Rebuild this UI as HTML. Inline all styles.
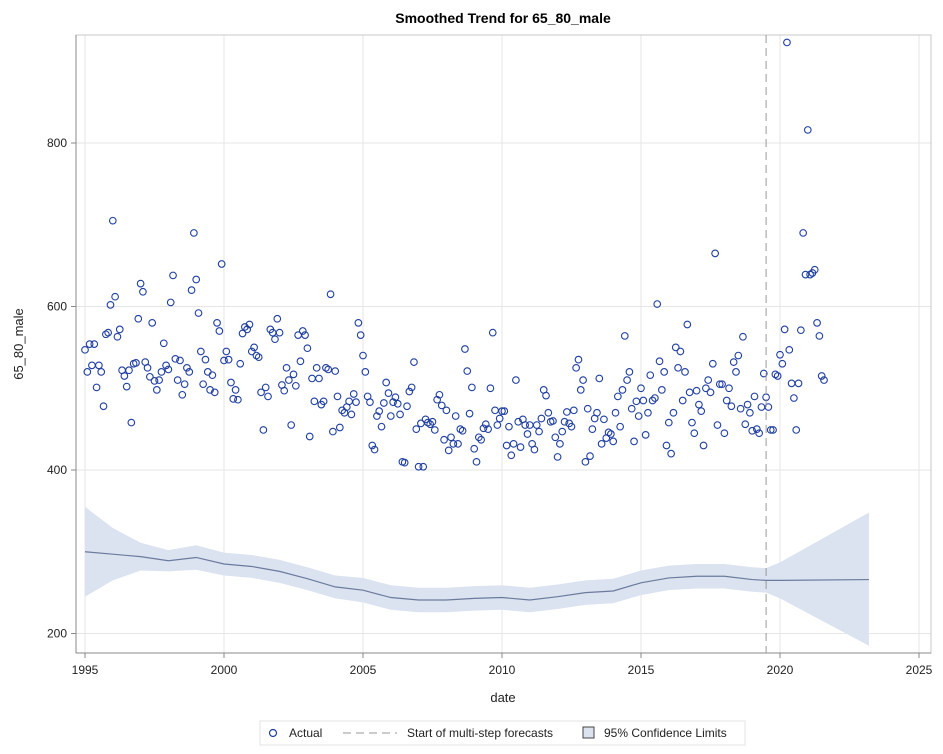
<!DOCTYPE html>
<html><head><meta charset="utf-8"><style>
body{margin:0;background:#fff;font-family:"Liberation Sans",Arial,sans-serif}
svg text{font-family:"Liberation Sans",Arial,sans-serif}
</style></head><body>
<svg id="chart" width="943" height="749" xmlns="http://www.w3.org/2000/svg">
<rect width="943" height="749" fill="#fff"/>
<text x="503" y="23" text-anchor="middle" font-size="14" font-weight="bold" fill="#000">Smoothed Trend for 65_80_male</text>
<g id="grid"></g>
<g id="band"></g>
<g id="trend"></g>
<g id="pts"></g>
<g id="axes"></g>
<text transform="translate(23,344) rotate(-90)" text-anchor="middle" font-size="13" fill="#222">65_80_male</text>
<text x="503" y="702" text-anchor="middle" font-size="13" fill="#222">date</text>
<g>
<rect x="260" y="721" width="485" height="24" fill="#fff" stroke="#e3e3e3"/>
<circle cx="273" cy="733" r="3.5" fill="none" stroke="#1f3fa0" stroke-width="1.2"/>
<text x="289" y="737" font-size="12" fill="#222">Actual</text>
<line x1="343" y1="733" x2="397" y2="733" stroke="#999" stroke-dasharray="8,5"/>
<text x="407" y="737" font-size="12" fill="#222">Start of multi-step forecasts</text>
<rect x="583" y="727" width="11" height="11" fill="#dbe3f1" stroke="#444"/>
<text x="604" y="737" font-size="12" fill="#222">95% Confidence Limits</text>
</g>
</svg>
<script>
const yearStarts=[1995,1996,1997,1998,1999,2000,2001,2002,2003,2004,2005,2006,2007,2008,2009,2010,2011,2012,2013,2014,2015,2016,2017,2018,2019,2020,2021];
const actualValues=[
547,520,554,528,554,501,528,520,478,566,568,602,
705,612,563,572,522,515,502,522,458,530,531,585,
628,618,532,525,514,580,509,498,510,520,555,528,
523,605,638,536,510,534,492,505,525,520,620,690,
633,592,545,505,535,520,498,516,495,580,570,652,
534,545,535,507,487,498,486,530,567,575,572,578,
545,550,540,538,495,449,501,490,572,568,560,585,
568,504,497,525,510,455,517,503,565,533,570,565,
549,441,512,484,525,512,480,484,525,523,615,447,
521,490,452,473,470,477,484,468,493,483,580,565,
540,520,490,483,430,425,466,472,453,482,507,494,
466,483,489,481,468,410,409,478,496,501,532,450,
404,457,404,462,458,456,459,449,486,492,479,437,
473,424,440,432,466,432,450,448,548,521,469,501,
426,410,440,437,451,456,450,500,568,473,455,463,
472,472,430,453,418,432,510,459,428,462,455,444,
455,432,425,455,447,463,498,491,470,459,460,440,
416,432,447,459,471,457,453,473,525,535,498,510,
410,475,417,450,463,470,512,432,462,439,446,444,
435,470,490,453,498,564,510,520,475,435,484,466,
500,485,443,470,516,485,488,603,533,498,520,430,
458,420,470,550,525,545,485,520,578,495,458,445,
497,480,472,430,500,510,495,530,665,455,505,505,
445,485,500,478,532,520,540,475,563,456,480,470,
448,490,450,445,477,518,489,477,449,449,517,515,
541,530,572,923,547,506,488,449,506,571,690,639,
816,639,641,645,580,564,515,510];
const trendYears=[1995,1996,1997,1998,1999,2000,2001,2002,2003,2004,2005,2006,2007,2008,2009,2010,2011,2012,2013,2014,2015,2016,2017,2018,2019,2019.5,2020,2023.2];
const trendValues=[300,297,294,289,293,285,282,276,267,257,253,244,241,241,243,244,241,245,250,252,262,268,270,270,266,265,265,266];
const ciLow=[245,265,277,276,278,271,268,262,253,243,238,229,226,226,228,229,226,230,235,237,247,253,255,255,251,250,243,185];
const ciHigh=[355,329,311,302,308,299,296,290,281,271,268,259,256,256,258,259,256,260,265,267,277,283,285,285,281,280,287,348];
const xTicks=[1995,2000,2005,2010,2015,2020,2025];
const yTicks=[200,400,600,800];
const forecastStart=2019.5;

const L=76,R=931,T=35,B=653;
const xs=y=>85+(y-1995)*27.8;
const ys=v=>470-(v-400)*0.8175;
const NS="http://www.w3.org/2000/svg";
function mk(tag,attrs,parent){const e=document.createElementNS(NS,tag);for(const k in attrs)e.setAttribute(k,attrs[k]);parent.appendChild(e);return e;}
const grid=document.getElementById('grid'),axes=document.getElementById('axes');
mk('rect',{x:L,y:T,width:R-L,height:B-T,fill:'#fff',stroke:'none'},grid);
xTicks.forEach(t=>{
 const g=mk('line',{x1:xs(t),x2:xs(t),y1:T,y2:B,stroke:'#e6e6e6'},grid);
 
 
 const tk=mk('line',{x1:xs(t),x2:xs(t),y1:B,y2:B+5,stroke:'#888'},axes);
 
 
 const lb=mk('text',{x:xs(t),y:B+21,'text-anchor':'middle','font-size':'12',fill:'#222'},axes);
 lb.textContent=t;
 
 
});
yTicks.forEach(t=>{
 const g=mk('line',{x1:L,x2:R,y1:ys(t),y2:ys(t),stroke:'#e6e6e6'},grid);
 
 
 const tk=mk('line',{x1:L-5,x2:L,y1:ys(t),y2:ys(t),stroke:'#888'},axes);
 
 
 const lb=mk('text',{x:L-9,y:ys(t)+4,'text-anchor':'end','font-size':'12',fill:'#222'},axes);
 lb.textContent=t;
 
 
});
mk('rect',{x:L,y:T,width:R-L,height:B-T,fill:'none',stroke:'#c8c8c8'},axes);
mk('line',{x1:L,x2:R,y1:B,y2:B,stroke:'#888'},axes);
mk('line',{x1:L,x2:L,y1:T,y2:B,stroke:'#888'},axes);
// band
let d='';
trendYears.forEach((y,i)=>{d+=(i?'L':'M')+xs(y)+','+ys(ciHigh[i]);});
for(let i=trendYears.length-1;i>=0;i--)d+='L'+xs(trendYears[i])+','+ys(ciLow[i]);
const band=mk('path',{d:d+'Z',fill:'#dbe3f1'},document.getElementById('band'));


let td='';
trendYears.forEach((y,i)=>{td+=(i?'L':'M')+xs(y)+','+ys(trendValues[i]);});
const tl=mk('path',{d:td,fill:'none',stroke:'#6b7b9c','stroke-width':'1.2'},document.getElementById('trend'));


const pts=document.getElementById('pts');
actualValues.forEach((v,i)=>{
 const t=yearStarts[0]+i/12;
 const c=mk('circle',{cx:xs(t),cy:ys(v),r:3.3,fill:'none',stroke:'#1f3fa0','stroke-width':'1.1'},pts);
 
 
});
const fl=mk('line',{x1:xs(forecastStart),x2:xs(forecastStart),y1:T,y2:B,stroke:'#999','stroke-dasharray':'8,5'},axes);


</script>
</body></html>
